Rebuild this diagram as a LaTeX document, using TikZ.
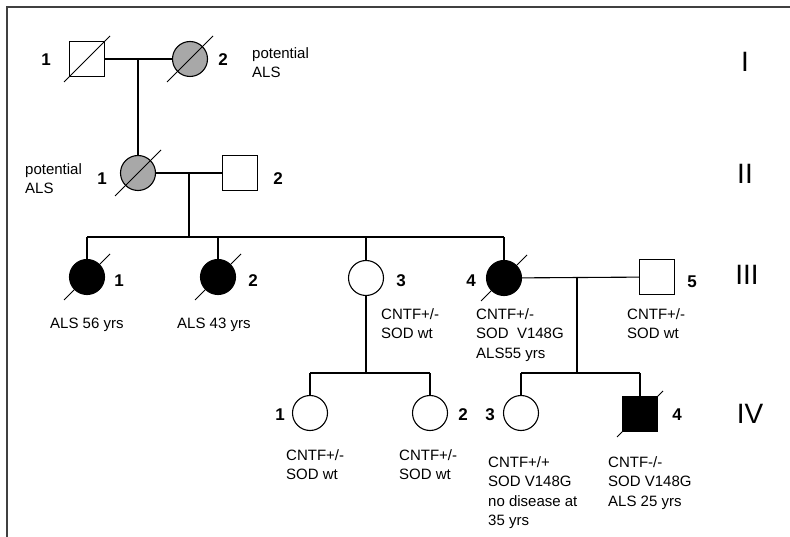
\documentclass[tikz,border=0pt]{standalone}
\usepackage{fontspec}
\setmainfont{Liberation Sans}
\usepackage{xcolor}
\usetikzlibrary{positioning,calc}
\definecolor{pedgray}{RGB}{168,168,168}

\begin{document}
\begin{tikzpicture}[
        x=1pt, y=-1pt,
        person/.style={
            draw,
            line width=1.1pt,
            inner sep=0pt,
            minimum size=35pt
        },
        male/.style={person, rectangle},
        female/.style={person, circle},
        affected/.style={fill=black},
        carrier/.style={fill=pedgray},
        num/.style={
            font=\bfseries\fontsize{17}{17}\selectfont,
            inner sep=0pt
        },
        gen/.style={
            font=\fontsize{28}{28}\selectfont,
            inner sep=0pt
        },
        note/.style={
            font=\fontsize{15}{19.5}\selectfont,
            align=left,
            anchor=north west,
            inner sep=0pt
        },
        line/.style={line width=1.1pt},
        slash/.style={line width=0.9pt}
    ]

    \useasboundingbox (0,0) rectangle (790,537);
    \draw[line width=2pt, black!75] (790,7) -- (7,7) -- (7,537);

    % generation I
    \node[male] (i1) at (87,59) {};
    \node[female, carrier] (i2) at (190,59) {};
    \node[num] (n-i1) at (46,60) {1};
    \node[num] (n-i2) at (223,60) {2};
    \node[note] (t-i2) at (252,47) {potential\\ALS};

    % generation II
    \node[female, carrier] (ii1) at (138,173) {};
    \node[male] (ii2) at (240,173) {};
    \node[num] (n-ii1) at (102,179) {1};
    \node[num] (n-ii2) at (278,179) {2};
    \node[note] (t-ii1) at (25,163) {potential\\ALS};

    % generation III
    \node[female, affected] (iii1) at (87,277) {};
    \node[female, affected] (iii2) at (218,277) {};
    \node[female] (iii3) at (366,278) {};
    \node[female, affected] (iii4) at (504,278) {};
    \node[male] (iii5) at (657,277) {};
    \node[num] (n-iii1) at (119,281) {1};
    \node[num] (n-iii2) at (253,281) {2};
    \node[num] (n-iii3) at (401,281) {3};
    \node[num] (n-iii4) at (471,281) {4};
    \node[num] (n-iii5) at (692,282) {5};
    \node[note] (t-iii1) at (50,318) {ALS 56 yrs};
    \node[note] (t-iii2) at (177,318) {ALS 43 yrs};
    \node[note] (t-iii3) at (381,308) {CNTF+/-\\SOD wt};
    \node[note] (t-iii4) at (476,308) {CNTF+/-\\SOD\ \ V148G\\ALS55 yrs};
    \node[note] (t-iii5) at (627,308) {CNTF+/-\\SOD wt};

    % generation IV
    \node[female] (iv1) at (310,413) {};
    \node[female] (iv2) at (430,413) {};
    \node[female] (iv3) at (521,413) {};
    \node[male, affected] (iv4) at (640,414) {};
    \node[num] (n-iv1) at (280,415) {1};
    \node[num] (n-iv2) at (463,415) {2};
    \node[num] (n-iv3) at (490,415) {3};
    \node[num] (n-iv4) at (677,415) {4};
    \node[note] (t-iv1) at (286,449) {CNTF+/-\\SOD wt};
    \node[note] (t-iv2) at (399,449) {CNTF+/-\\SOD wt};
    \node[note] (t-iv3) at (488,456) {CNTF+/+\\SOD V148G\\no disease at\\35 yrs};
    \node[note] (t-iv4) at (608,456) {CNTF-/-\\SOD V148G\\ALS 25 yrs};

    \node[gen] (g1) at (745,62) {I};
    \node[gen] (g2) at (745,174) {II};
    \node[gen] (g3) at (747,275) {III};
    \node[gen] (g4) at (750,414) {IV};

    \coordinate (m1) at (138,59);
    \coordinate (m2) at (189,173);
    \coordinate (s2) at (189,237);
    \coordinate (m3) at (577,277);
    \coordinate (s3) at (577,373);
    \coordinate (s4) at (366,373);

    \draw[line] (i1) -- (i2);
    \draw[line] (m1) -- (ii1);
    \draw[line] (ii1) -- (ii2);
    \draw[line] (m2) -- (s2);
    \draw[line] (iii1 |- s2) -- (iii4 |- s2);
    \foreach \c in {iii1,iii2,iii3,iii4}
        \draw[line] (\c) -- (\c |- s2);
    \draw[line] (iii4) -- (iii5);
    \draw[line] (m3) -- (s3);
    \draw[line] (iii3) -- (s4);
    \draw[line] (iv1 |- s4) -- (iv2 |- s4);
    \draw[line] (iv3 |- s3) -- (iv4 |- s3);
    \foreach \c in {iv1,iv2}
        \draw[line] (\c) -- (\c |- s4);
    \foreach \c in {iv3,iv4}
        \draw[line] (\c) -- (\c |- s3);

    \foreach \c in {i1,i2,ii1,iii1,iii2,iii4,iv4}
        \draw[slash] ([shift={(-23,23)}]\c.center) -- ([shift={(23,-23)}]\c.center);

\end{tikzpicture}
\end{document}
